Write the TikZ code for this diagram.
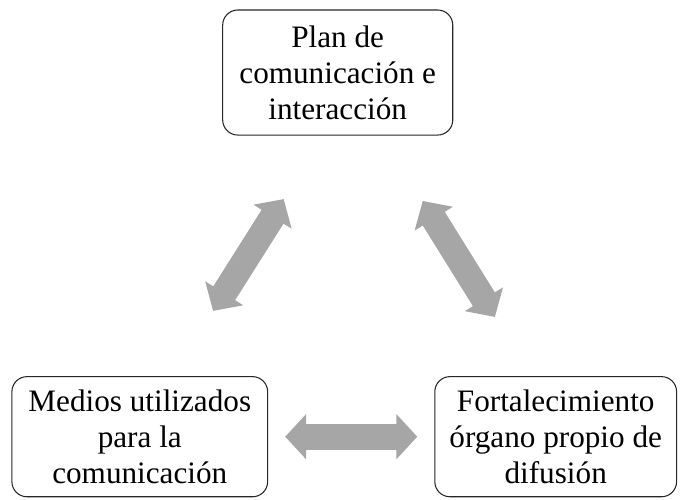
\documentclass[tikz,border=0pt]{standalone}
\usepackage{fontspec}
\setmainfont{Liberation Serif}
\usepackage{xcolor}
\usetikzlibrary{arrows.meta}
\definecolor{CIGray}{HTML}{A6A6A6}
\definecolor{CILine}{HTML}{262626}

\begin{document}
\begin{tikzpicture}[x=1cm,y=1cm,
  cibox/.style={draw=CILine,line width=0.8pt,rounded corners=0.4cm,align=center,
    inner sep=0pt,font=\fontsize{23.5}{27.2}\selectfont},
  ciarrow/.style={CIGray,line width=19.5pt,{Triangle[length=15.7pt,width=33pt]}-{Triangle[length=15.7pt,width=33pt]}}]
\path[use as bounding box] (0,0) rectangle (18.00,13.23);
\node[cibox,minimum width=6.09cm,minimum height=3.31cm] (plan) at (8.94,11.31) {Plan de\\comunicación e\\interacción};
\node[cibox,minimum width=6.77cm,minimum height=3.18cm] (medios) at (3.70,1.67) {Medios utilizados\\para la\\comunicación};
\node[cibox,minimum width=6.40cm,minimum height=3.18cm] (fort) at (14.71,1.67) {Fortalecimiento\\órgano propio de\\difusión};
\coordinate (l1) at (5.64,5.00);
\coordinate (l2) at (7.51,7.96);
\coordinate (r1) at (11.19,7.91);
\coordinate (r2) at (13.10,4.84);
\draw[ciarrow] (l1) -- (l2);
\draw[ciarrow] (r1) -- (r2);
\draw[ciarrow,shorten <=0.45cm,shorten >=0.45cm] (medios) -- (fort);
\end{tikzpicture}
\end{document}
